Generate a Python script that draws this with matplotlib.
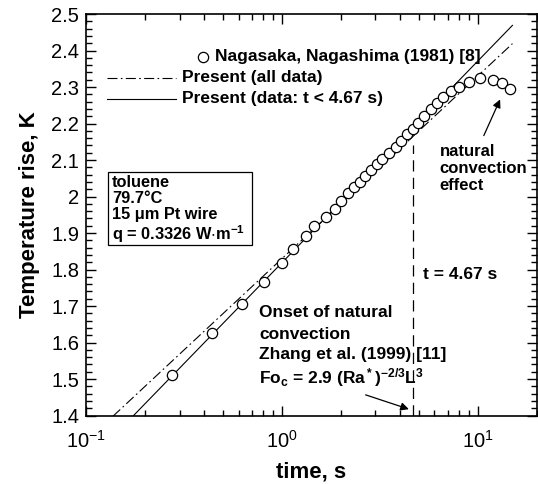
import numpy as np
import matplotlib
matplotlib.use('Agg')
import matplotlib.pyplot as plt
from matplotlib.patches import Rectangle
from matplotlib.ticker import LogLocator, MultipleLocator, FormatStrFormatter, LogFormatterSciNotation

plt.rcParams['font.family'] = ['Liberation Sans', 'DejaVu Sans']
plt.rcParams['mathtext.fontset'] = 'custom'
plt.rcParams['mathtext.rm'] = 'Liberation Sans'
plt.rcParams['mathtext.default'] = 'regular'

# measured data, Nagasaka & Nagashima (1981)
time_s = [0.276, 0.441, 0.628, 0.805, 1.00, 1.14, 1.33, 1.46, 1.68, 1.86,
          2.01, 2.17, 2.33, 2.50, 2.66, 2.84, 3.04, 3.25, 3.51, 3.80,
          4.06, 4.36, 4.65, 4.96, 5.32, 5.78, 6.16, 6.65, 7.26, 8.02,
          8.97, 10.2, 11.9, 13.2, 14.6]
temp_rise = [1.512, 1.626, 1.706, 1.766, 1.819, 1.855, 1.892, 1.918, 1.944, 1.965,
             1.989, 2.009, 2.025, 2.041, 2.056, 2.073, 2.090, 2.103, 2.120, 2.137,
             2.153, 2.170, 2.185, 2.201, 2.221, 2.240, 2.255, 2.273, 2.288, 2.301,
             2.315, 2.324, 2.320, 2.310, 2.294]

# fits dT = a + b*log10(t)
fit_all = (1.830, 0.5007)
fit_short = (1.8188, 0.5528)
fit_t = [0.1, 15.0]
t_onset = 4.67

legend_labels = ['Nagasaka, Nagashima (1981) [8]',
                 'Present (all data)',
                 'Present (data: t < 4.67 s)']
box_lines = ['toluene', '79.7\u00b0C', '15 \u03bcm Pt wire',
             r'q = 0.3326 W$\cdot$m$^{-1}$']

fig = plt.figure(figsize=(5.38, 4.84), dpi=100)
ax = fig.add_axes([0.160, 0.1415, 0.838, 0.8295])

tt = np.array(fit_t)
dashdot = (0, (9, 3, 1.5, 3))
ax.plot(tt, fit_all[0] + fit_all[1] * np.log10(tt), color='black', lw=0.8, ls=dashdot)
ax.plot(tt, fit_short[0] + fit_short[1] * np.log10(tt), color='black', lw=0.8)
ax.plot(time_s, temp_rise, 'o', mfc='white', mec='black', ms=7.4, mew=0.9, zorder=3)
ax.plot([t_onset, t_onset], [1.4, 2.14], color='black', lw=0.9, ls=(0, (9, 5)))

ax.set_xscale('log')
ax.set_xlim(0.1, 20)
ax.set_ylim(1.4, 2.5)
ax.xaxis.set_major_locator(LogLocator(base=10))
ax.xaxis.set_minor_locator(LogLocator(base=10, subs=np.arange(2, 10)))
ax.xaxis.set_major_formatter(LogFormatterSciNotation())
ax.xaxis.set_minor_formatter(plt.NullFormatter())
ax.yaxis.set_major_locator(MultipleLocator(0.1))
ax.yaxis.set_minor_locator(MultipleLocator(0.02))
ax.yaxis.set_major_formatter(FormatStrFormatter('%g'))
ax.tick_params(which='both', direction='in', top=True, right=True, labelsize=14.5, width=1.0)
ax.tick_params(which='major', length=7, pad=5)
ax.tick_params(axis='x', which='major', pad=10)
ax.tick_params(which='minor', length=4.5)
for s in ax.spines.values():
    s.set_linewidth(1.2)

ax.set_xlabel('time, s', fontsize=16, fontweight='bold', labelpad=7)
ax.set_ylabel('Temperature rise, K', fontsize=16, fontweight='bold', labelpad=8)

# legend drawn by hand (Tecplot style)
fs = 12.5
tr = ax.transAxes
ax.plot([0.2594], [0.893], 'o', mfc='white', mec='black', ms=7.4, mew=0.9, transform=tr)
ax.text(0.286, 0.893, legend_labels[0], transform=tr, fontsize=fs, fontweight='bold', va='center')
ax.plot([0.046, 0.20], [0.841, 0.841], color='black', lw=0.8, ls=dashdot, transform=tr)
ax.text(0.213, 0.841, legend_labels[1], transform=tr, fontsize=fs, fontweight='bold', va='center')
ax.plot([0.046, 0.20], [0.789, 0.789], color='black', lw=0.8, transform=tr)
ax.text(0.213, 0.789, legend_labels[2], transform=tr, fontsize=fs, fontweight='bold', va='center')

# info box
ax.add_patch(Rectangle((0.0488, 0.4247), 0.3192, 0.1818, transform=tr,
                       fc='white', ec='black', lw=0.9, zorder=4))
for txt, yy in zip(box_lines, [0.581, 0.541, 0.501, 0.452]):
    ax.text(0.0576, yy, txt, transform=tr, fontsize=11.8, fontweight='bold',
            va='center', ha='left', zorder=5)

ax.text(5.25, 1.785, 't = 4.67 s', fontsize=fs, fontweight='bold', va='center')
onset_lines = ['Onset of natural', 'convection', 'Zhang et al. (1999) [11]',
               r'Fo$_c$ = 2.9 (Ra$^*$)$^{-2/3}$L$^3$']
for txt, yy in zip(onset_lines, [1.681, 1.623, 1.568, 1.505]):
    ax.text(0.763, yy, txt, fontsize=fs, fontweight='bold', va='center')
ax.annotate('', xy=(4.58, 1.415), xytext=(2.59, 1.459),
            arrowprops=dict(arrowstyle='-|>', color='black', lw=0.9, mutation_scale=12))

for txt, yy in zip(['natural', 'convection', 'effect'], [2.124, 2.077, 2.030]):
    ax.text(6.38, yy, txt, fontsize=12, fontweight='bold', va='center')
ax.annotate('', xy=(13.15, 2.273), xytext=(10.57, 2.16),
            arrowprops=dict(arrowstyle='-|>', color='black', lw=0.9, mutation_scale=12))

fig.savefig('out.png', dpi=100)
